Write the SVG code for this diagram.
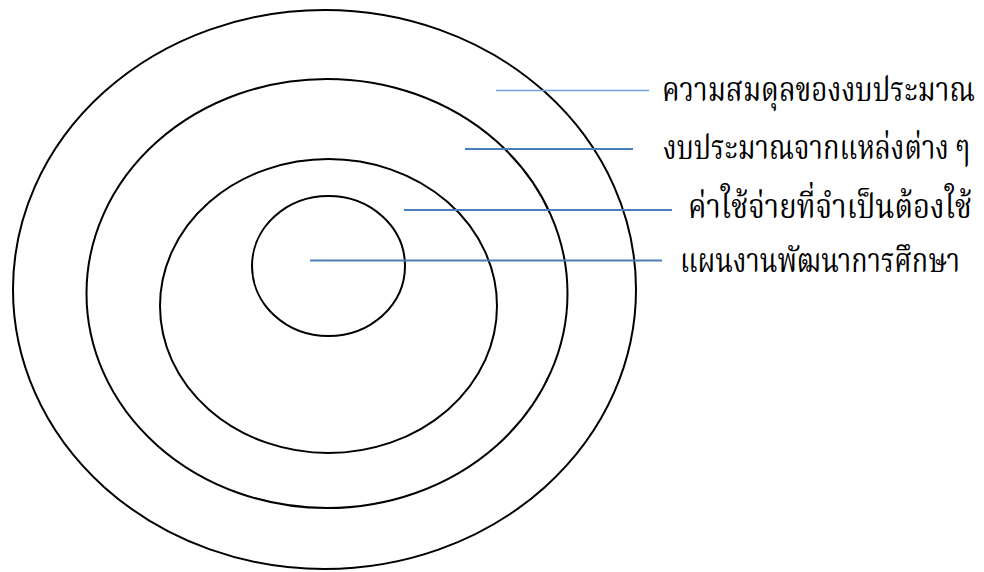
<svg xmlns="http://www.w3.org/2000/svg" width="984" height="572" viewBox="0 0 984 572">
<style>
.ring{fill:none;stroke:#000;stroke-width:2}
.ln{stroke:#4a7ebb;stroke-width:2;fill:none}
.ln1{stroke:#6fa3dc;stroke-width:1.3;fill:none}
.lb{font-family:"Liberation Serif","DejaVu Serif","Noto Serif Thai","Noto Sans Thai",serif;font-size:28px;fill:#000}
</style>
<rect width="984" height="572" fill="#fff"/>
<g id="ring1"><ellipse class="ring" cx="324.5" cy="289.5" rx="311.5" ry="279.5"/></g>
<g id="ring2"><ellipse class="ring" cx="327" cy="293.5" rx="240.5" ry="214.5"/></g>
<g id="ring3"><ellipse class="ring" cx="328.5" cy="306" rx="168.5" ry="147"/></g>
<g id="ring4"><ellipse class="ring" cx="328.5" cy="266" rx="76.5" ry="70"/></g>
<g id="connectors">
<line class="ln1" x1="496" y1="90.5" x2="649" y2="90.5"/>
<line class="ln" x1="465" y1="149" x2="633" y2="149"/>
<line class="ln" x1="404" y1="210" x2="672" y2="210"/>
<line class="ln" x1="310" y1="260.5" x2="662" y2="260.5"/>
</g>
<g id="label1"><text class="lb" transform="translate(662,101) scale(1,1.22)" textLength="313" lengthAdjust="spacingAndGlyphs">ความสมดุลของงบประมาณ</text></g>
<g id="label2"><text class="lb" transform="translate(663,159) scale(1,1.22)" textLength="307" lengthAdjust="spacingAndGlyphs">งบประมาณจากแหล่งต่าง ๆ</text></g>
<g id="label3"><text class="lb" transform="translate(688,218) scale(1,1.22)" textLength="284" lengthAdjust="spacingAndGlyphs">ค่าใช้จ่ายที่จำเป็นต้องใช้</text></g>
<g id="label4"><text class="lb" transform="translate(680,272) scale(1,1.22)" textLength="280" lengthAdjust="spacingAndGlyphs">แผนงานพัฒนาการศึกษา</text></g>
</svg>
